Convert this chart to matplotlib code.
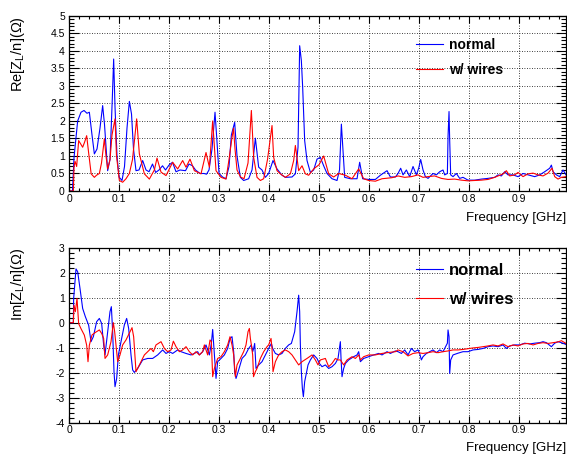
import matplotlib
matplotlib.use("Agg")
import matplotlib.pyplot as plt
from matplotlib.ticker import MultipleLocator, FormatStrFormatter

plt.rcParams['font.family'] = ['Liberation Sans', 'DejaVu Sans']
plt.rcParams['mathtext.fontset'] = 'custom'
plt.rcParams['mathtext.rm'] = 'Liberation Sans'
plt.rcParams['mathtext.it'] = 'Liberation Sans:italic'

# ---- Re[Z_L/n] ----
re_f_normal = [0.0, 0.007, 0.010, 0.0173, 0.024, 0.030, 0.036, 0.0407, 0.046, 0.0507, 0.056, 0.062,
               0.0673, 0.071, 0.0773, 0.082, 0.0865, 0.0893, 0.092, 0.096, 0.100, 0.106, 0.111, 0.116,
               0.1207, 0.125, 0.129, 0.134, 0.140, 0.1473, 0.154, 0.160, 0.167, 0.1733, 0.180, 0.187,
               0.193, 0.200, 0.207, 0.214, 0.222, 0.233, 0.240, 0.247, 0.253, 0.262, 0.270, 0.275,
               0.280, 0.286, 0.292, 0.296, 0.300, 0.307, 0.314, 0.320, 0.3247, 0.3313, 0.336, 0.3427,
               0.3493, 0.3593, 0.366, 0.3727, 0.3793, 0.386, 0.3927, 0.3993, 0.408, 0.416, 0.426, 0.4327,
               0.446, 0.4527, 0.458, 0.4613, 0.4647, 0.4673, 0.4713, 0.476, 0.4827, 0.4893, 0.496, 0.5027,
               0.5093, 0.516, 0.526, 0.536, 0.541, 0.5447, 0.5513, 0.5627, 0.576, 0.5813, 0.5873, 0.5993,
               0.6127, 0.6227, 0.636, 0.6427, 0.6527, 0.658, 0.6633, 0.668, 0.6747, 0.6813, 0.688, 0.6947,
               0.6993, 0.7033, 0.708, 0.7127, 0.718, 0.728, 0.7347, 0.7413, 0.748, 0.7513, 0.7567, 0.758,
               0.760, 0.7613, 0.7633, 0.768, 0.7747, 0.7813, 0.788, 0.798, 0.8113, 0.8247, 0.838, 0.8513,
               0.858, 0.8647, 0.8713, 0.878, 0.888, 0.898, 0.908, 0.918, 0.9313, 0.9413, 0.9513, 0.9613,
               0.9647, 0.968, 0.9747, 0.9813, 0.988, 0.994]
re_normal = [0.0, 0.0, 0.95, 2.0, 2.25, 2.3, 2.22, 2.25, 1.6, 1.06, 1.2, 1.8,
             2.44, 1.9, 0.58, 0.9, 2.6, 3.77, 2.4, 1.0, 0.4, 0.3, 0.7, 1.8,
             2.56, 2.2, 1.2, 0.58, 0.6, 0.87, 0.6, 0.55, 0.77, 0.53, 0.6, 0.72,
             0.6, 0.74, 0.82, 0.55, 0.6, 0.58, 0.77, 0.72, 0.6, 0.5, 0.5, 0.48,
             0.6, 1.2, 2.25, 1.4, 0.5, 0.4, 0.35, 0.7, 1.6, 1.96, 1.0, 0.39,
             0.3, 0.35, 0.6, 1.51, 0.68, 0.6, 0.39, 0.5, 0.87, 0.63, 0.45, 0.39,
             0.4, 0.49, 1.25, 4.15, 3.72, 2.96, 1.44, 0.87, 0.53, 0.6, 0.91, 0.96,
             0.72, 0.5, 0.35, 0.3, 0.6, 1.91, 0.39, 0.35, 0.35, 0.82, 0.35, 0.33,
             0.33, 0.45, 0.58, 0.4, 0.4, 0.5, 0.65, 0.46, 0.6, 0.41, 0.7, 0.46,
             0.65, 0.9, 0.6, 0.41, 0.36, 0.5, 0.46, 0.55, 0.6, 0.46, 0.5, 1.55,
             2.27, 1.46, 0.46, 0.41, 0.5, 0.36, 0.39, 0.31, 0.31, 0.34, 0.36, 0.39,
             0.46, 0.43, 0.55, 0.46, 0.46, 0.41, 0.5, 0.46, 0.41, 0.46, 0.55, 0.65,
             0.74, 0.55, 0.46, 0.41, 0.6, 0.46]

re_f_wires = [0.0, 0.0087, 0.010, 0.012, 0.0153, 0.0193, 0.0273, 0.0313, 0.0353, 0.040, 0.0443, 0.0507,
              0.055, 0.0607, 0.065, 0.0707, 0.074, 0.0773, 0.082, 0.086, 0.092, 0.095, 0.1007, 0.1073,
              0.114, 0.1207, 0.127, 0.1353, 0.1407, 0.1507, 0.1607, 0.1707, 0.176, 0.184, 0.194, 0.2073,
              0.2173, 0.2273, 0.234, 0.242, 0.2507, 0.264, 0.274, 0.2807, 0.2873, 0.294, 0.304, 0.314,
              0.320, 0.326, 0.329, 0.332, 0.336, 0.343, 0.350, 0.358, 0.3647, 0.3693, 0.376, 0.3827,
              0.3893, 0.397, 0.406, 0.4093, 0.416, 0.4227, 0.4327, 0.4427, 0.4493, 0.4527, 0.4593, 0.466,
              0.4727, 0.4793, 0.4893, 0.500, 0.5093, 0.5193, 0.5293, 0.5393, 0.5527, 0.566, 0.5793, 0.5893,
              0.5993, 0.6127, 0.626, 0.646, 0.658, 0.6713, 0.6847, 0.698, 0.708, 0.718, 0.7313, 0.7447,
              0.758, 0.7713, 0.7847, 0.798, 0.8113, 0.8247, 0.838, 0.8513, 0.858, 0.868, 0.8747, 0.8813,
              0.8913, 0.898, 0.908, 0.918, 0.928, 0.938, 0.948, 0.958, 0.966, 0.9713, 0.978, 0.9847, 0.994]
re_wires = [0.0, 0.0, 0.68, 0.85, 0.7, 1.44, 1.25, 1.4, 1.58, 1.0, 0.49, 0.39,
            0.45, 0.5, 0.8, 1.49, 1.0, 0.63, 0.9, 1.6, 2.06, 1.0, 0.3, 0.25,
            0.35, 0.5, 0.9, 2.06, 1.06, 0.49, 0.34, 0.6, 0.94, 0.54, 0.44, 0.82,
            0.63, 0.87, 0.68, 0.91, 0.58, 0.49, 1.1, 0.68, 2.0, 0.58, 0.39, 0.34,
            0.9, 1.53, 1.79, 1.2, 0.6, 0.4, 0.35, 0.8, 2.3, 0.96, 0.39, 0.3,
            0.35, 0.9, 1.87, 0.96, 0.58, 0.49, 0.39, 0.49, 0.87, 1.3, 0.58, 0.72,
            0.49, 0.45, 0.63, 0.75, 1.0, 0.49, 0.4, 0.5, 0.45, 0.35, 0.63, 0.35,
            0.3, 0.28, 0.35, 0.38, 0.43, 0.39, 0.41, 0.46, 0.39, 0.41, 0.43, 0.36,
            0.33, 0.34, 0.31, 0.29, 0.30, 0.31, 0.33, 0.39, 0.43, 0.49, 0.58, 0.43,
            0.46, 0.53, 0.41, 0.49, 0.51, 0.46, 0.43, 0.51, 0.65, 0.41, 0.34, 0.39, 0.41]

# ---- Im[Z_L/n] ----
im_f_normal = [0.0, 0.0087, 0.0093, 0.014, 0.0173, 0.022, 0.0273, 0.0327, 0.0393, 0.044, 0.0487, 0.0553,
               0.0607, 0.0653, 0.0693, 0.072, 0.0773, 0.082, 0.0847, 0.0873, 0.090, 0.092, 0.0953, 0.0987,
               0.104, 0.1107, 0.1153, 0.1193, 0.124, 0.1273, 0.1307, 0.1373, 0.1473, 0.1573, 0.1673, 0.1773,
               0.1873, 0.194, 0.2007, 0.2073, 0.2173, 0.224, 0.234, 0.244, 0.2507, 0.2573, 0.2607, 0.2673,
               0.274, 0.2807, 0.2847, 0.2873, 0.2907, 0.294, 0.2973, 0.304, 0.3107, 0.3173, 0.322, 0.326,
               0.3293, 0.3313, 0.334, 0.3393, 0.346, 0.3527, 0.3593, 0.3647, 0.3673, 0.3693, 0.3713, 0.374,
               0.3793, 0.386, 0.3927, 0.3993, 0.4047, 0.4073, 0.4127, 0.4193, 0.426, 0.4327, 0.4393, 0.4447,
               0.4513, 0.456, 0.4593, 0.4613, 0.4627, 0.4647, 0.4667, 0.4687, 0.4713, 0.474, 0.478, 0.4827,
               0.4893, 0.496, 0.5007, 0.506, 0.5127, 0.5193, 0.526, 0.5327, 0.538, 0.5427, 0.544, 0.546,
               0.5493, 0.5527, 0.5593, 0.5693, 0.576, 0.5793, 0.5827, 0.5893, 0.5993, 0.6093, 0.6193, 0.626,
               0.636, 0.6427, 0.6527, 0.658, 0.6647, 0.6713, 0.678, 0.6847, 0.6913, 0.698, 0.7013, 0.7047,
               0.708, 0.7147, 0.7213, 0.728, 0.7347, 0.7413, 0.748, 0.7513, 0.7567, 0.758, 0.760, 0.7613,
               0.7633, 0.768, 0.778, 0.788, 0.798, 0.808, 0.818, 0.828, 0.838, 0.848, 0.858, 0.868,
               0.8747, 0.8813, 0.8913, 0.9013, 0.9113, 0.9213, 0.9313, 0.9413, 0.948, 0.9547, 0.9647, 0.9713,
               0.978, 0.9847, 0.994]
im_normal = [0.0, 0.0, 0.97, 2.15, 2.04, 1.37, 0.57, 0.24, -0.1, -0.76, -0.56, 0.04,
             0.17, -0.03, -0.89, -1.29, -0.36, 0.44, 0.64, -0.36, -1.96, -2.56, -2.23, -1.29,
             -0.76, -0.09, 0.17, -0.23, -1.29, -1.89, -1.99, -1.83, -1.49, -1.43, -1.43, -1.29,
             -1.09, -1.23, -1.16, -1.23, -1.09, -1.16, -1.23, -1.29, -1.23, -1.16, -1.29, -1.16,
             -0.89, -1.29, -0.83, -0.27, -1.29, -2.23, -1.56, -1.43, -1.29, -1.03, -0.63, -0.56,
             -1.16, -1.96, -2.23, -1.89, -1.43, -1.29, -1.03, -0.89, -1.16, -1.03, -0.83, -1.83,
             -1.69, -1.56, -1.29, -1.03, -0.83, -1.03, -1.23, -1.29, -1.23, -1.03, -0.89, -0.83,
             -0.36, 0.44, 1.1, 0.44, -0.89, -1.96, -2.63, -2.96, -2.36, -2.09, -1.69, -1.49,
             -1.29, -1.43, -1.63, -1.76, -1.69, -1.83, -1.76, -1.63, -1.43, -0.76, -1.43, -2.16,
             -1.83, -1.63, -1.49, -1.36, -1.29, -1.16, -1.56, -1.43, -1.36, -1.29, -1.23, -1.29,
             -1.16, -1.23, -1.13, -1.16, -1.23, -1.09, -1.29, -1.03, -1.16, -1.09, -1.23, -1.49,
             -1.36, -1.23, -1.16, -1.09, -1.2, -1.09, -1.16, -1.03, -0.82, -0.29, -0.56, -2.03,
             -1.49, -1.29, -1.22, -1.16, -1.16, -1.09, -1.07, -1.03, -0.96, -0.93, -0.96, -0.89,
             -1.03, -0.93, -0.89, -0.89, -0.82, -0.85, -0.82, -0.8, -0.76, -0.8, -0.96, -0.82,
             -0.76, -0.8, -0.87]

im_f_wires = [0.0, 0.0087, 0.010, 0.0127, 0.016, 0.0193, 0.024, 0.0307, 0.0353, 0.038, 0.0407, 0.046,
              0.0527, 0.0607, 0.0653, 0.0693, 0.072, 0.0773, 0.084, 0.0887, 0.0913, 0.0973, 0.102, 0.1073,
              0.114, 0.122, 0.126, 0.1293, 0.1327, 0.134, 0.1373, 0.144, 0.1507, 0.1573, 0.164, 0.1687,
              0.174, 0.184, 0.1907, 0.1973, 0.204, 0.2087, 0.214, 0.2207, 0.2273, 0.234, 0.2407, 0.2473,
              0.254, 0.2607, 0.2673, 0.2707, 0.2773, 0.282, 0.2847, 0.2873, 0.2907, 0.2973, 0.304, 0.3107,
              0.3173, 0.322, 0.326, 0.3293, 0.3327, 0.336, 0.3427, 0.3493, 0.354, 0.358, 0.3607, 0.3627,
              0.3647, 0.3673, 0.369, 0.3727, 0.376, 0.3827, 0.3893, 0.396, 0.3993, 0.404, 0.406, 0.408,
              0.4127, 0.4193, 0.426, 0.4327, 0.4393, 0.446, 0.4527, 0.4593, 0.466, 0.476, 0.486, 0.4927,
              0.498, 0.5027, 0.5127, 0.5193, 0.526, 0.5327, 0.538, 0.5427, 0.5493, 0.556, 0.566, 0.5727,
              0.5793, 0.5827, 0.5893, 0.5993, 0.6127, 0.626, 0.6393, 0.6527, 0.658, 0.668, 0.678, 0.688,
              0.698, 0.708, 0.718, 0.728, 0.738, 0.748, 0.758, 0.768, 0.778, 0.788, 0.798, 0.808,
              0.818, 0.828, 0.838, 0.848, 0.858, 0.868, 0.878, 0.888, 0.898, 0.908, 0.918, 0.928,
              0.938, 0.948, 0.958, 0.968, 0.978, 0.9847, 0.994]
im_wires = [0.0, 0.0, 0.7, 0.44, 0.97, -0.04, -0.24, -0.5, -0.9, -1.56, -0.9, -0.49,
            -0.39, -0.29, -0.43, -0.63, -1.43, -1.29, -0.76, 0.0, -0.36, -1.56, -1.29, -0.89,
            -0.69, -0.36, -0.2, -0.56, -1.56, -1.96, -1.83, -1.56, -1.29, -1.16, -1.03, -1.16,
            -0.89, -0.76, -1.03, -1.16, -1.09, -0.74, -0.96, -1.16, -1.09, -0.96, -1.16, -1.29,
            -1.16, -1.29, -1.16, -0.89, -1.29, -0.69, -0.76, -2.16, -1.83, -1.43, -1.36, -1.16,
            -0.89, -0.56, -0.89, -1.29, -2.16, -1.69, -1.43, -1.16, -0.89, -0.36, -0.23, -0.63,
            -0.89, -1.29, -2.16, -1.96, -1.83, -1.43, -1.16, -0.96, -0.89, -0.63, -1.03, -1.96,
            -1.56, -1.29, -1.16, -1.09, -1.16, -1.29, -1.49, -1.69, -1.56, -1.43, -1.29, -1.49,
            -1.69, -1.49, -1.43, -1.76, -1.63, -1.43, -1.49, -1.49, -1.69, -1.49, -1.36, -1.43,
            -1.29, -1.49, -1.36, -1.29, -1.29, -1.23, -1.19, -1.16, -1.09, -1.16, -1.33, -1.23,
            -1.2, -1.23, -1.2, -1.16, -1.2, -1.16, -1.13, -1.09, -1.09, -1.07, -1.04, -1.01,
            -0.99, -0.96, -0.93, -0.89, -0.93, -0.85, -0.96, -0.89, -0.93, -0.85, -0.83, -0.89,
            -0.83, -0.8, -0.83, -0.8, -0.77, -0.72, -0.83]

fig = plt.figure(figsize=(5.67, 4.59), dpi=100)
ax1 = fig.add_axes([0.1217, 0.5839, 0.8766, 0.3813])
ax2 = fig.add_axes([0.1217, 0.0791, 0.8766, 0.3813])


def style(ax, ymaj, ymin_):
    ax.set_xlim(0, 0.994)
    ax.xaxis.set_major_locator(MultipleLocator(0.1))
    ax.xaxis.set_minor_locator(MultipleLocator(0.02))
    ax.yaxis.set_major_locator(MultipleLocator(ymaj))
    ax.yaxis.set_minor_locator(MultipleLocator(ymin_))
    ax.xaxis.set_major_formatter(FormatStrFormatter('%g'))
    ax.yaxis.set_major_formatter(FormatStrFormatter('%g'))
    ax.tick_params(which='both', direction='in', top=True, right=True, labelsize=7.5,
                   width=0.8, colors='black')
    ax.tick_params(axis='x', which='major', length=5, pad=2)
    ax.tick_params(axis='x', which='minor', length=2.5)
    ax.tick_params(axis='y', which='major', length=7.5, pad=3)
    ax.tick_params(axis='y', which='minor', length=3.8)
    ax.grid(True, which='major', color='black', linestyle=(0, (1, 2)), linewidth=0.6)
    for s in ax.spines.values():
        s.set_linewidth(0.9)
    ax.set_xlabel('Frequency [GHz]', fontsize=9.5, loc='right')


ax1.plot(re_f_normal, re_normal, color='#0000ff', lw=0.8, label='normal')
ax1.plot(re_f_wires, re_wires, color='#ff0000', lw=0.8, label='w/ wires')
style(ax1, 0.5, 0.1)
ax1.set_ylim(0, 5)
ax1.set_ylabel('Re[Z$_{\\mathrm{L}}$/n](Ω)', fontsize=10.5, loc='top')
ax1.yaxis.set_label_coords(-0.085, 1.0)
ax1.xaxis.set_label_coords(1.0, -0.12)
ax1.legend(loc='upper left', bbox_to_anchor=(0.698, 0.873), frameon=False,
           prop={'weight': 'bold', 'size': 10}, handlelength=1.95, handletextpad=0.45,
           labelspacing=0.8, borderpad=0, borderaxespad=0)

ax2.plot(im_f_normal, im_normal, color='#0000ff', lw=0.8, label='normal')
ax2.plot(im_f_wires, im_wires, color='#ff0000', lw=0.8, label='w/ wires')
style(ax2, 1, 0.2)
ax2.set_ylim(-4, 3)
ax2.set_ylabel('Im[Z$_{\\mathrm{L}}$/n](Ω)', fontsize=10.5, loc='top')
ax2.yaxis.set_label_coords(-0.085, 1.0)
ax2.xaxis.set_label_coords(1.0, -0.11)
ax2.legend(loc='upper left', bbox_to_anchor=(0.698, 0.912), frameon=False,
           prop={'weight': 'bold', 'size': 12}, handlelength=1.62, handletextpad=0.36,
           labelspacing=0.81, borderpad=0, borderaxespad=0)

fig.savefig('out.png', dpi=100)
